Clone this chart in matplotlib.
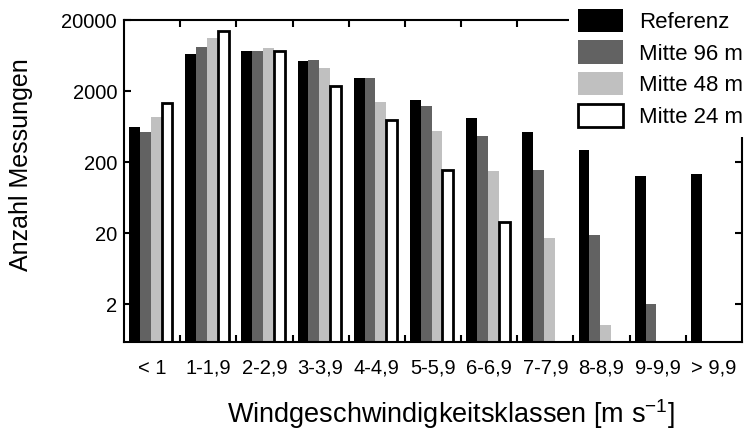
import numpy as np
import matplotlib
matplotlib.use("Agg")
import matplotlib.pyplot as plt
from matplotlib.ticker import FixedLocator, NullLocator

plt.rcParams['font.family'] = ['Liberation Sans', 'DejaVu Sans']

# wind speed classes
classes = ['< 1', '1-1,9', '2-2,9', '3-3,9', '4-4,9', '5-5,9', '6-6,9',
           '7-7,9', '8-8,9', '9-9,9', '> 9,9']

# counts per class (0 = no measurements)
referenz = [620, 6670, 7350, 5320, 3075, 1510, 845, 537, 291, 127, 137]
mitte_96 = [526, 8360, 7350, 5500, 3075, 1244, 472, 157, 18.7, 2.0, 0]
mitte_48 = [853, 11190, 8100, 4245, 1416, 555, 148, 16.8, 1.0, 0, 0]
mitte_24 = [1356, 14160, 7420, 2320, 792, 156, 28.2, 0, 0, 0, 0]

series = [('Referenz', referenz, 'black', 'black'),
          ('Mitte 96 m', mitte_96, '#626262', '#626262'),
          ('Mitte 48 m', mitte_48, '#c0c0c0', '#c0c0c0'),
          ('Mitte 24 m', mitte_24, 'white', 'black')]

fig = plt.figure(figsize=(7.52, 4.32), dpi=100)
ax = fig.add_axes([124 / 752, 1 - 342 / 432, 618 / 752, 322 / 432])

x = np.arange(len(classes))
w = 0.193
start = -0.5 + 0.09
for k, (name, vals, fc, ec) in enumerate(series):
    vals = np.array(vals, dtype=float)
    mask = vals > 0
    lw = 2.0 if fc == 'white' else 0
    ax.bar(x[mask] + start + w * (k + 0.5), vals[mask], width=w, bottom=0.01,
           color=fc, edgecolor=ec, linewidth=lw, label=name, zorder=2)

ax.set_yscale('log')
ax.set_ylim(0.585, 20000)
ax.set_xlim(-0.5, len(classes) - 0.5)

ax.yaxis.set_major_locator(FixedLocator([2, 20, 200, 2000, 20000]))
ax.yaxis.set_minor_locator(NullLocator())
ax.set_yticklabels(['2', '20', '200', '2000', '20000'])

ax.xaxis.set_major_locator(FixedLocator(np.arange(len(classes) - 1) + 0.5))
ax.xaxis.set_minor_locator(FixedLocator(x))
ax.set_xticklabels([], minor=False)
ax.set_xticklabels(classes, minor=True)

ax.tick_params(axis='both', which='major', direction='in', length=5, width=1.5,
               top=True, right=True, labelsize=14.5, pad=5)
ax.tick_params(axis='x', which='minor', length=0, labelsize=14.5, pad=12)
for s in ax.spines.values():
    s.set_linewidth(1.5)

ax.set_ylabel('Anzahl Messungen', fontsize=18)
ax.yaxis.set_label_coords(-0.147, 0.55)
ax.set_xlabel('Windgeschwindigkeitsklassen [m s$^{\\mathregular{-1}}$]', fontsize=19.5)
ax.xaxis.set_label_coords(0.529, -0.172)

leg = ax.legend(loc='upper left', bbox_to_anchor=(569 / 752, 1.0),
                bbox_transform=fig.transFigure, fontsize=16, frameon=True,
                fancybox=False, edgecolor='none', facecolor='white', framealpha=1,
                handlelength=2.05, handleheight=1.25, labelspacing=0.33,
                handletextpad=0.7, borderpad=0.4, borderaxespad=0)
leg.set_zorder(10)

fig.savefig('out.png', dpi=100)
